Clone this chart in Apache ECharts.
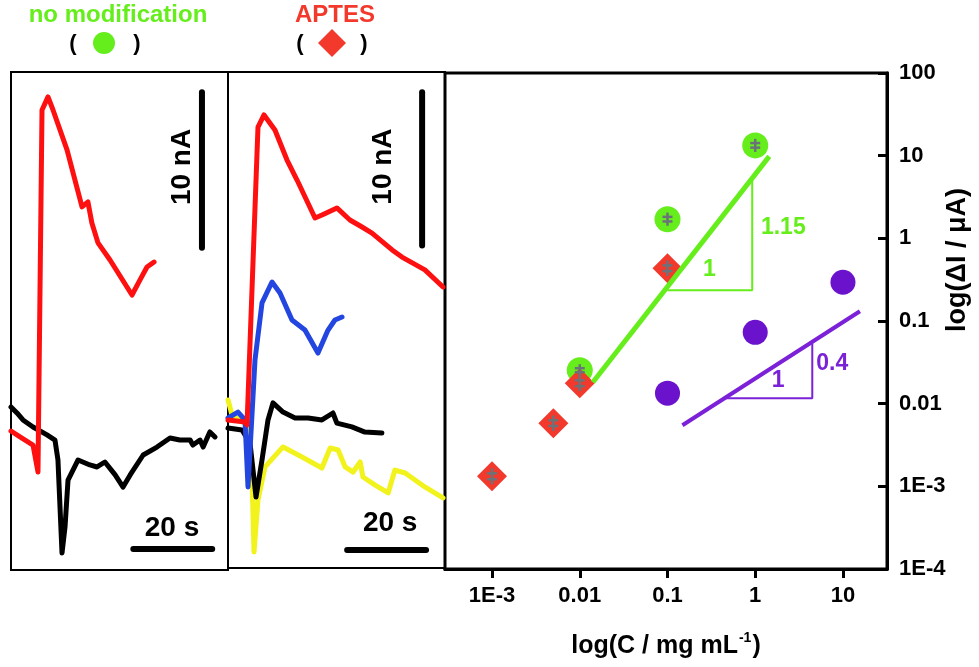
<!DOCTYPE html>
<html><head><meta charset="utf-8">
<script src="https://cdn.jsdelivr.net/npm/echarts@6/dist/echarts.min.js"></script>
<style>html,body{margin:0;padding:0;background:#fff}#c{width:979px;height:667px}</style>
</head><body><div id="c"></div>
<script>
// ---------- Left panel (no modification) traces: [time s, current nA] ----------
const leftRed = [[0,8.93],[2.28,8.55],[5.58,8.03],[6.84,6.30],[7.86,29.56],[9.38,30.40],[10.65,29.56],[14.2,27.0],[18.0,23.33],[19.5,23.65],[20.5,22.30],[22.05,21.02],[25.1,19.92],[30.67,17.67],[32.7,18.64],[34.47,19.47],[36.25,19.79]];
const leftBlack = [[0,10.48],[1.52,10.09],[3.04,9.64],[5.58,9.19],[9.13,8.68],[11.15,8.35],[11.9,7.07],[12.93,1.09],[13.69,2.76],[14.45,5.78],[17.0,7.07],[20.0,6.75],[21.8,6.62],[23.8,6.94],[26.4,6.11],[28.4,5.33],[30.2,6.11],[33.5,7.39],[37.0,7.90],[40.3,8.48],[42.8,8.35],[45.4,8.35],[46.1,8.03],[47.9,8.35],[48.7,7.90],[50.4,8.87],[51.7,8.55]];
// ---------- Middle panel (APTES) traces ----------
const midRed = [[0,9.55],[4.31,9.42],[4.82,9.23],[7.6,28.45],[9.13,29.23],[11.9,28.26],[14.96,26.32],[17.5,25.03],[22.05,22.58],[23.83,22.77],[27.6,23.23],[30.9,22.45],[33.97,22.0],[36.5,21.61],[41.6,20.52],[44.1,20.06],[49.9,19.23],[54.5,18.13]];
const midBlue = [[0,9.68],[2.53,10.06],[4.31,9.55],[5.07,5.23],[6.84,13.42],[8.62,17.1],[11.15,18.45],[13.18,17.74],[16.22,16.0],[19.5,15.35],[22.8,13.87],[25.35,15.35],[27.1,16.0],[28.9,16.19]];
const midBlack = [[0,9.03],[3.55,8.9],[5.58,8.06],[7.1,4.58],[8.62,6.97],[10.14,9.55],[11.4,10.65],[13.94,10.06],[17.0,9.68],[20.3,9.68],[23.8,9.55],[26.6,10.0],[27.6,9.35],[31.4,9.1],[34.7,8.77],[39.0,8.71]];
const midYellow = [[0,10.84],[1.01,9.87],[4.82,9.23],[6.08,5.87],[6.59,1.03],[7.6,4.39],[9.38,6.52],[13.94,7.81],[18.76,7.16],[23.8,6.45],[25.9,7.74],[27.9,7.61],[29.7,6.52],[31.7,6.19],[33.5,6.84],[34.2,5.87],[37.3,5.35],[40.6,4.84],[42.3,6.32],[44.9,6.13],[49.9,5.23],[54.5,4.52]];
// scale bars
const leftTimeBar = [[31,1.35],[51,1.35]];
const leftCurrBar = [[48.4,20.7],[48.4,30.7]];
const midTimeBar = [[30.2,1.16],[50.2,1.16]];
const midCurrBar = [[49.2,20.8],[49.2,30.7]];
const leftBarLabels = [[40.8,2.7,'20 s',0],[43.3,25.9,'10 nA',90]];
const midBarLabels = [[41.1,2.9,'20 s',0],[39.3,25.9,'10 nA',90]];

// ---------- Right panel: log-log ----------
const concNoMod = [0.01, 0.1, 1];
const currNoMod = [0.0254, 1.70, 13.3];
const errHiNoMod = [0.030, 2.05, 16.0];
const errLoNoMod = [0.0215, 1.42, 11.1];
const concAptes = [0.001, 0.005, 0.01, 0.1];
const currAptes = [0.00132, 0.0058, 0.0177, 0.434];
const errHiAptes = [0.00165, 0.0072, 0.022, 0.54];
const errLoAptes = [0.00106, 0.0047, 0.0142, 0.35];
const concPurple = [0.1, 1, 10];
const currPurple = [0.0134, 0.073, 0.294];
const fitGreen = [[0.0141,0.0182],[1.445,9.8]];
const triGreen = [[0.1,0.235],[0.924,0.235],[0.924,5.0]];
const fitPurple = [[0.148,0.00548],[15.6,0.131]];
const triPurple = [[0.447,0.0116],[4.47,0.0116],[4.47,0.0537]];
const greenLabels = [[0.301,0.422,'1'],[2.09,1.36,'1.15']];
const purpleLabels = [[1.83,0.0192,'1'],[7.55,0.0308,'0.4']];
const xTickValues = [0.001, 0.01, 0.1, 1, 10];
const xTickLabels = ['1E-3','0.01','0.1','1','10'];
const yTickValues = [1e-4, 1e-3, 0.01, 0.1, 1, 10, 100];
const yTickLabels = ['1E-4','1E-3','0.01','0.1','1','10','100'];

const FONT = '"Liberation Sans", Arial, sans-serif';
const GREEN = '#66ee1c', RED = '#f2392c', PURPLE = '#6a12cc', PLINE = '#7b22d8';

function lookup(vals, labels, v) {
  const i = vals.findIndex(t => Math.abs(Math.log10(t) - Math.log10(v)) < 1e-6);
  return i >= 0 ? labels[i] : '';
}
const zip = (a, b) => a.map((v, i) => [v, b[i]]);
const zip3 = (a, b, c) => a.map((v, i) => [v, b[i], c[i]]);

function traceSeries(idx, data, color) {
  return {type:'line', xAxisIndex:idx, yAxisIndex:idx, data, showSymbol:false, symbol:'none',
    lineStyle:{color, width:5, join:'round', cap:'round'}, itemStyle:{color}, silent:true, animation:false};
}
function barSeries(idx, data) {
  return {type:'line', xAxisIndex:idx, yAxisIndex:idx, data, symbol:'none',
    lineStyle:{color:'#000', width:6, cap:'round'}, silent:true, animation:false};
}
function barLabelSeries(idx, rows) {
  return {type:'scatter', xAxisIndex:idx, yAxisIndex:idx, symbolSize:0, silent:true, animation:false, z:10,
    itemStyle:{opacity:1},
    data: rows.map(r => ({value:[r[0], r[1], r[2]], label:{show:true, position:'inside', rotate:r[3],
      color:'#000', fontFamily:FONT, fontWeight:'bold', fontSize:28, formatter:r[2]}}))};
}
function rightLabelSeries(rows, color) {
  return {type:'scatter', xAxisIndex:2, yAxisIndex:2, symbolSize:0, silent:true, animation:false, z:10,
    itemStyle:{opacity:1},
    data: rows.map(r => ({value:[r[0], r[1]], label:{show:true, position:'inside',
      color, fontFamily:FONT, fontWeight:'bold', fontSize:23, formatter:r[2]}}))};
}
function errSeries(x, hi, lo) {
  return {type:'custom', xAxisIndex:2, yAxisIndex:2, data: zip3(x, hi, lo), z:8, silent:true, animation:false,
    encode:{x:0, y:[1,2]},
    renderItem(params, api) {
      const xv = api.value(0);
      const pH = api.coord([xv, api.value(1)]), pL = api.coord([xv, api.value(2)]);
      const c = 5, st = {stroke:'#6b7379', lineWidth:2.5};
      const ym = (pH[1] + pL[1]) / 2;
      return {type:'group', children:[
        {type:'line', shape:{x1:pH[0], y1:pH[1], x2:pL[0], y2:pL[1]}, style:st},
        {type:'line', shape:{x1:pH[0]-c, y1:(pH[1]+ym)/2+1, x2:pH[0]+c, y2:(pH[1]+ym)/2+1}, style:st},
        {type:'line', shape:{x1:pL[0]-c, y1:(pL[1]+ym)/2-1, x2:pL[0]+c, y2:(pL[1]+ym)/2-1}, style:st}
      ]};
    }};
}

const axisFont = {fontFamily:FONT, fontWeight:'bold', fontSize:22, color:'#000'};

const option = {
  backgroundColor:'#ffffff',
  animation:false,
  grid:[
    {left:11, top:72, width:217, height:498, show:true, borderColor:'#000', borderWidth:2},
    {left:228, top:72, width:217, height:496, show:true, borderColor:'#000', borderWidth:2},
    {left:445, top:73, width:442, height:496, show:true, borderColor:'#000', borderWidth:3}
  ],
  xAxis:[
    {gridIndex:0, type:'value', min:0, max:55, show:false},
    {gridIndex:1, type:'value', min:0, max:55, show:false},
    {gridIndex:2, type:'log', logBase:10, min:Math.pow(10,-3.536), max:Math.pow(10,1.502),
      axisLine:{show:true, lineStyle:{color:'#000', width:3}},
      axisTick:{show:true, inside:false, length:9, lineStyle:{color:'#000', width:3}, customValues:xTickValues},
      axisLabel:Object.assign({margin:16, customValues:xTickValues,
        formatter:v => lookup(xTickValues, xTickLabels, v)}, axisFont),
      splitLine:{show:false}, minorTick:{show:false},
      name:'{a|log(C / mg mL}{s|-1}{a|)}', nameLocation:'middle', nameGap:62,
      nameTextStyle:{rich:{
        a:{fontFamily:FONT, fontWeight:'bold', fontSize:25, color:'#000', lineHeight:30},
        s:{fontFamily:FONT, fontWeight:'bold', fontSize:14, color:'#000', verticalAlign:'top', lineHeight:30, padding:[0,1,14,1]}
      }}
    }
  ],
  yAxis:[
    {gridIndex:0, type:'value', min:0, max:32, show:false},
    {gridIndex:1, type:'value', min:0, max:32, show:false},
    {gridIndex:2, type:'log', logBase:10, min:1e-4, max:100, position:'right', splitNumber:6,
      axisLine:{show:true, lineStyle:{color:'#000', width:3}},
      axisTick:{show:true, inside:true, length:9, lineStyle:{color:'#000', width:3}},
      axisLabel:Object.assign({margin:12, formatter:v => lookup(yTickValues, yTickLabels, v)}, axisFont),
      splitLine:{show:false}, minorTick:{show:false}
    }
  ],
  graphic:[
    {type:'text', style:{x:118, y:15, text:'no modification', fill:GREEN, font:'bold 24px '+FONT, textAlign:'center', textVerticalAlign:'middle'}},
    {type:'text', style:{x:73, y:44, text:'(', fill:'#000', font:'bold 22px '+FONT, textAlign:'center', textVerticalAlign:'middle'}},
    {type:'circle', shape:{cx:104, cy:43, r:11}, style:{fill:GREEN}},
    {type:'text', style:{x:137, y:44, text:')', fill:'#000', font:'bold 22px '+FONT, textAlign:'center', textVerticalAlign:'middle'}},
    {type:'text', style:{x:335, y:15, text:'APTES', fill:RED, font:'bold 24px '+FONT, textAlign:'center', textVerticalAlign:'middle'}},
    {type:'text', style:{x:300, y:44, text:'(', fill:'#000', font:'bold 22px '+FONT, textAlign:'center', textVerticalAlign:'middle'}},
    {type:'polygon', shape:{points:[[332,29],[346,43],[332,57],[318,43]]}, style:{fill:RED}},
    {type:'text', style:{x:364, y:44, text:')', fill:'#000', font:'bold 22px '+FONT, textAlign:'center', textVerticalAlign:'middle'}},
    {type:'text', x:958, y:260, rotation:Math.PI/2, style:{x:0, y:0, text:'log(\u0394I / \u03bcA)', fill:'#000', font:'bold 27px '+FONT, textAlign:'center', textVerticalAlign:'middle'}}
  ],
  series:[
    traceSeries(0, leftBlack, '#000000'),
    traceSeries(0, leftRed, '#ff1010'),
    barSeries(0, leftTimeBar), barSeries(0, leftCurrBar),
    barLabelSeries(0, leftBarLabels),
    traceSeries(1, midYellow, '#f2f21c'),
    traceSeries(1, midBlack, '#000000'),
    traceSeries(1, midBlue, '#2446e0'),
    traceSeries(1, midRed, '#ff1010'),
    barSeries(1, midTimeBar), barSeries(1, midCurrBar),
    barLabelSeries(1, midBarLabels),
    {type:'scatter', xAxisIndex:2, yAxisIndex:2, data:zip(concNoMod, currNoMod), symbol:'circle', symbolSize:26, itemStyle:{color:GREEN, opacity:1}, z:3},
    {type:'scatter', xAxisIndex:2, yAxisIndex:2, data:zip(concAptes, currAptes), symbol:'diamond', symbolSize:30, itemStyle:{color:RED, opacity:1}, z:4},
    {type:'scatter', xAxisIndex:2, yAxisIndex:2, data:zip(concPurple, currPurple), symbol:'circle', symbolSize:25, itemStyle:{color:PURPLE, opacity:1}, z:3},
    errSeries(concNoMod, errHiNoMod, errLoNoMod),
    errSeries(concAptes, errHiAptes, errLoAptes),
    {type:'line', xAxisIndex:2, yAxisIndex:2, data:fitGreen, symbol:'none', lineStyle:{color:GREEN, width:5}, z:6},
    {type:'line', xAxisIndex:2, yAxisIndex:2, data:triGreen, symbol:'none', lineStyle:{color:GREEN, width:2}, z:6},
    {type:'line', xAxisIndex:2, yAxisIndex:2, data:fitPurple, symbol:'none', lineStyle:{color:PLINE, width:4}, z:6},
    {type:'line', xAxisIndex:2, yAxisIndex:2, data:triPurple, symbol:'none', lineStyle:{color:PLINE, width:2}, z:6},
    rightLabelSeries(greenLabels, GREEN),
    rightLabelSeries(purpleLabels, PLINE)
  ]
};
const chart = echarts.init(document.getElementById('c'));
chart.setOption(option);
</script></body></html>
